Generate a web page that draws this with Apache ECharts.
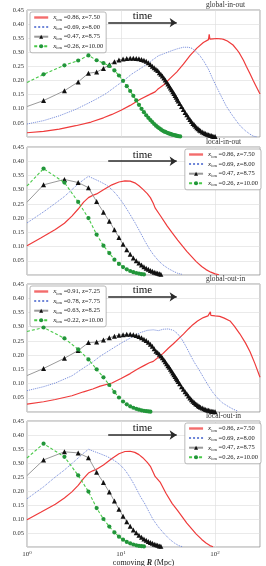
<!DOCTYPE html>
<html><head><meta charset="utf-8">
<script src="https://cdn.jsdelivr.net/npm/echarts@6/dist/echarts.min.js"></script>
<style>html,body{margin:0;padding:0;background:#fff}#c{width:266px;height:566px}</style>
</head><body><div id="c"></div>
<script>
// ---------- data (R in Mpc, R dP/dR) ----------
const panelTitles = ['global-in-out','local-in-out','global-out-in','local-out-in'];
const labelsA = ['=0.86, z=7.50','=0.69, z=8.00','=0.47, z=8.75','=0.26, z=10.00'];
const labelsB = ['=0.91, z=7.25','=0.78, z=7.75','=0.63, z=8.25','=0.22, z=10.00'];
const xTickExponents = [0,1,2];
const yTicks = [0.05,0.10,0.15,0.20,0.25,0.30,0.35,0.40,0.45];

const p1Red = [[1,0.015],[1.5,0.020],[2.2,0.028],[3.3,0.040],[4.8,0.053],[6.5,0.068],[8,0.080],[10,0.095],[12.5,0.112],[16,0.134],[20.5,0.152],[23,0.160],[23.6,0.158],[24.5,0.169],[28.5,0.185],[33,0.207],[39,0.230],[46,0.258],[54,0.288],[64,0.315],[75,0.335],[85,0.345],[86.5,0.364],[88,0.347],[95,0.348],[104,0.349],[115,0.348],[123,0.346],[135,0.340],[155,0.326],[170,0.310],[182,0.296],[200,0.272],[215,0.250],[235,0.224],[254,0.200],[275,0.177],[300,0.152]];
const p1Blue = [[1,0.046],[1.5,0.058],[2.2,0.075],[3.3,0.098],[4.5,0.120],[5.5,0.135],[7,0.155],[9,0.182],[10.5,0.198],[13,0.223],[17,0.248],[21,0.270],[25,0.288],[29,0.296],[34,0.305],[40,0.313],[46,0.318],[52,0.318],[57,0.314],[63,0.302],[69,0.288],[76,0.268],[85,0.240],[96,0.200],[110,0.160],[123,0.128],[131,0.110],[150,0.080],[170,0.055],[184,0.040],[210,0.022],[235,0.010],[255,0.003],[280,0.000]];
const p1Black = [[1,0.108],[1.5,0.129],[2.5,0.164],[3.5,0.195],[4.5,0.226],[5.5,0.230],[6.5,0.243],[7.5,0.256],[8.5,0.267],[9.5,0.273],[10.5,0.276],[11.5,0.278],[12.5,0.279],[13.5,0.279],[14.5,0.278],[15.5,0.277],[16.5,0.275],[17.5,0.272],[18.5,0.268],[19.5,0.263],[20.5,0.257],[21.5,0.251],[22.5,0.245],[23.5,0.240],[24.5,0.236],[25.5,0.228],[26.5,0.222],[27.5,0.216],[28.5,0.209],[29.5,0.202],[30.5,0.195],[31.5,0.188],[32.5,0.181],[33.5,0.174],[34.5,0.167],[35.5,0.160],[36.5,0.154],[37.5,0.147],[38.5,0.141],[39.5,0.134],[40.5,0.128],[42,0.119],[44,0.108],[46,0.097],[48,0.087],[50,0.079],[52,0.070],[54,0.062],[56,0.055],[58,0.048],[60,0.043],[62,0.038],[64,0.033],[66,0.029],[68,0.025],[70,0.022],[73,0.018],[76,0.015],[79,0.012],[82,0.010],[85,0.008],[88,0.006],[91,0.005],[94,0.003],[97,0.002],[100,0.002]];
const p1Green = [[1,0.193],[1.5,0.222],[2.5,0.254],[3.5,0.271],[4.5,0.289],[5.5,0.272],[6.5,0.262],[7.5,0.252],[8.5,0.236],[9.5,0.218],[10.5,0.199],[11.5,0.180],[12.5,0.163],[13.5,0.146],[14.5,0.130],[15.5,0.114],[16.5,0.100],[17.5,0.088],[18.5,0.077],[19.5,0.068],[20.5,0.060],[21.5,0.053],[22.5,0.046],[23.5,0.040],[24.5,0.035],[25.5,0.031],[26.5,0.027],[27.5,0.023],[28.5,0.020],[29.5,0.018],[30.5,0.016],[31.5,0.014],[32.5,0.012],[33.5,0.011],[34.5,0.009],[35.5,0.008],[36.5,0.007],[37.5,0.006],[38.5,0.005],[39.5,0.004],[40.5,0.003],[42.5,0.002]];

const p2Red = [[1,0.103],[1.4,0.130],[2,0.160],[2.5,0.182],[3,0.207],[3.5,0.232],[4,0.256],[4.5,0.272],[5,0.280],[5.5,0.285],[6.5,0.300],[8,0.317],[9.5,0.327],[11,0.331],[12.5,0.330],[14,0.324],[15.5,0.314],[17,0.302],[19,0.286],[20.5,0.272],[22,0.252],[23,0.236],[23.5,0.240],[26,0.210],[31,0.172],[35,0.148],[40,0.123],[50,0.083],[63,0.047],[72,0.030],[80,0.019],[90,0.010],[100,0.004],[110,0.001]];
const p2Blue = [[1,0.183],[1.5,0.222],[2,0.252],[2.5,0.276],[3,0.300],[3.5,0.320],[4,0.335],[4.5,0.347],[5,0.340],[6,0.328],[7,0.316],[8,0.300],[9,0.282],[10,0.262],[11,0.242],[12,0.222],[13,0.203],[14,0.185],[16,0.150],[18,0.118],[20,0.092],[22,0.072],[25,0.050],[28,0.035],[32,0.022],[36,0.013],[40,0.006],[45,0.002]];
const p2Black = [[1,0.256],[1.5,0.317],[2.5,0.336],[3.5,0.325],[4.5,0.307],[5.5,0.258],[6.5,0.221],[7.5,0.189],[8.5,0.159],[9.5,0.132],[10.5,0.108],[11.5,0.089],[12.5,0.073],[13.5,0.060],[14.5,0.050],[15.5,0.042],[16.5,0.035],[17.5,0.029],[18.5,0.024],[19.5,0.020],[20.5,0.016],[21.5,0.013],[22.5,0.010],[23.5,0.008],[24.5,0.006],[25.5,0.004],[26.5,0.003]];
const p2Green = [[1,0.313],[1.5,0.374],[2.5,0.325],[3.5,0.257],[4.5,0.200],[5.5,0.142],[6.5,0.103],[7.5,0.077],[8.5,0.054],[9.5,0.039],[10.5,0.028],[11.5,0.020],[12.5,0.014],[13.5,0.010],[14.5,0.007],[15.5,0.005],[16.5,0.003],[17.5,0.002]];

const p3Red = [[1,0.028],[1.5,0.036],[2,0.044],[3,0.057],[4,0.071],[5,0.081],[6,0.091],[8,0.102],[10,0.118],[12.5,0.135],[15,0.151],[17.5,0.163],[20,0.173],[22,0.178],[23,0.176],[24,0.188],[28,0.206],[32,0.225],[36,0.240],[41,0.258],[46,0.274],[52,0.292],[58,0.307],[65,0.320],[75,0.332],[84,0.338],[88,0.340],[89,0.352],[90,0.340],[100,0.338],[112,0.336],[125,0.330],[144,0.320],[160,0.302],[183,0.275],[210,0.243],[235,0.212],[265,0.170],[300,0.122]];
const p3Blue = [[1,0.075],[1.5,0.089],[2,0.102],[3,0.127],[4,0.155],[5,0.176],[6,0.196],[8,0.222],[10,0.242],[13,0.263],[16,0.279],[19,0.287],[22,0.289],[25,0.286],[28,0.291],[32,0.292],[36,0.287],[40,0.275],[45,0.252],[50,0.225],[55,0.198],[60,0.175],[67,0.150],[75,0.122],[85,0.092],[95,0.068],[108,0.046],[120,0.032],[137,0.020],[155,0.010],[175,0.003]];
const p3Black = [[1,0.128],[1.5,0.153],[2.5,0.189],[3.5,0.216],[4.5,0.244],[5.5,0.246],[6.5,0.253],[7.5,0.261],[8.5,0.266],[9.5,0.270],[10.5,0.272],[11.5,0.273],[12.5,0.273],[13.5,0.272],[14.5,0.269],[15.5,0.265],[16.5,0.261],[17.5,0.256],[18.5,0.251],[19.5,0.245],[20.5,0.238],[21.5,0.231],[22.5,0.222],[23.5,0.214],[24.5,0.209],[25.5,0.203],[26.5,0.197],[27.5,0.191],[28.5,0.184],[29.5,0.177],[30.5,0.170],[31.5,0.163],[32.5,0.157],[33.5,0.150],[34.5,0.144],[35.5,0.137],[36.5,0.131],[37.5,0.125],[38.5,0.119],[39.5,0.113],[40.5,0.107],[42,0.099],[44,0.089],[46,0.080],[48,0.071],[50,0.064],[52,0.056],[54,0.049],[56,0.043],[58,0.038],[60,0.033],[62,0.029],[64,0.026],[66,0.022],[68,0.019],[70,0.017],[73,0.014],[76,0.011],[79,0.009],[82,0.007],[85,0.006],[88,0.004],[91,0.003],[94,0.002],[97,0.002],[100,0.001]];
const p3Green = [[1,0.283],[1.5,0.297],[2.5,0.259],[3.5,0.220],[4.5,0.185],[5.5,0.150],[6.5,0.122],[7.5,0.095],[8.5,0.070],[9.5,0.051],[10.5,0.037],[11.5,0.027],[12.5,0.020],[13.5,0.015],[14.5,0.011],[15.5,0.008],[16.5,0.006],[17.5,0.004],[18.5,0.003],[19.5,0.002],[20.5,0.001]];

const p4Red = [[1,0.097],[1.4,0.124],[2,0.153],[2.5,0.175],[3,0.197],[3.5,0.220],[4,0.245],[4.5,0.264],[5,0.272],[5.5,0.278],[6.5,0.293],[8,0.316],[9.5,0.333],[11,0.341],[12.5,0.342],[14,0.338],[15.5,0.330],[17,0.319],[19,0.302],[20.5,0.288],[22,0.266],[23,0.252],[23.5,0.257],[26,0.232],[30,0.192],[35,0.155],[40,0.130],[50,0.085],[63,0.046],[72,0.027],[80,0.014],[88,0.005],[95,0.001]];
const p4Blue = [[1,0.172],[1.5,0.215],[2,0.250],[2.5,0.275],[3,0.298],[3.5,0.318],[4,0.335],[4.5,0.349],[5,0.343],[6,0.333],[7,0.324],[8,0.314],[9,0.303],[10,0.290],[11,0.275],[12,0.257],[13,0.238],[14,0.219],[16,0.181],[18,0.153],[20,0.123],[22,0.097],[25,0.071],[29,0.046],[33,0.027],[37,0.014],[41,0.005],[45,0.001]];
const p4Black = [[1,0.255],[1.5,0.311],[2.5,0.340],[3.5,0.336],[4.5,0.319],[5.5,0.267],[6.5,0.230],[7.5,0.196],[8.5,0.164],[9.5,0.135],[10.5,0.110],[11.5,0.090],[12.5,0.074],[13.5,0.061],[14.5,0.051],[15.5,0.042],[16.5,0.035],[17.5,0.029],[18.5,0.024],[19.5,0.020],[20.5,0.016],[21.5,0.013],[22.5,0.010],[23.5,0.008],[24.5,0.006],[25.5,0.004],[26.5,0.003]];
const p4Green = [[1,0.318],[1.5,0.369],[2.5,0.322],[3.5,0.256],[4.5,0.198],[5.5,0.139],[6.5,0.100],[7.5,0.073],[8.5,0.052],[9.5,0.037],[10.5,0.026],[11.5,0.018],[12.5,0.013],[13.5,0.009],[14.5,0.006],[15.5,0.004],[16.5,0.003],[17.5,0.002]];

// annotation: "time" arrow (data coords)
const timeArrowR = [7.3, 39];
const timeArrowY = [0.405, 0.400, 0.405, 0.400];

// ---------- layout / style ----------
const FONT = '"Liberation Serif","DejaVu Serif",serif';
const gridTops = [10, 147, 284, 421];
const gridHeights = [127, 128, 128, 126];
const RED = '#ef3b3b', BLUE = '#6f86d8', BLACKLINE = '#9a9a9a', BLACKMK = '#111', GLINE = '#49c949', GMK = '#22963a';

const panelData = [
  {red:p1Red, blue:p1Blue, black:p1Black, green:p1Green, labels:labelsA, legendLeft:true},
  {red:p2Red, blue:p2Blue, black:p2Black, green:p2Green, labels:labelsA, legendLeft:false},
  {red:p3Red, blue:p3Blue, black:p3Black, green:p3Green, labels:labelsB, legendLeft:true},
  {red:p4Red, blue:p4Blue, black:p4Black, green:p4Green, labels:labelsA, legendLeft:false}
];

const grid = [], xAxis = [], yAxis = [], series = [], legend = [], title = [];
const labelMap = {};
panelData.forEach((p, i) => {
  grid.push({left:27, right:6, top:gridTops[i], height:gridHeights[i], containLabel:false, outerBoundsMode:'none',
    show:true, borderColor:'#8a8a8a', borderWidth:0.8, backgroundColor:'transparent'});
  const last = i === 3;
  xAxis.push({
    type:'log', logBase:10, min:1, max:300, gridIndex:i,
    axisLine:{show:false}, axisTick:{show:false},
    splitLine:{show:true, lineStyle:{color:'#dcdcdc', width:0.6}},
    axisLabel:{show:last, margin:3, color:'#333', fontFamily:FONT, showMaxLabel:false,
      formatter: v => { const l = Math.log10(v), e = Math.round(l); return (Math.abs(l - e) < 1e-6 && xTickExponents.indexOf(e) >= 0) ? '{b|10}{s|' + e + '}' : ''; },
      rich:{b:{fontSize:7, fontFamily:FONT, color:'#333'}, s:{fontSize:5, fontFamily:FONT, color:'#333', padding:[0,0,4,0]}}},
    name: last ? '{t|comoving }{i|R}{t| (Mpc)}' : '', nameLocation:'middle', nameGap:11,
    nameTextStyle:{rich:{t:{fontSize:8, fontFamily:FONT, color:'#222'}, i:{fontSize:8, fontFamily:FONT, fontStyle:'italic', fontWeight:'bold', color:'#222'}}}
  });
  yAxis.push({
    type:'value', min:0, max:0.45, interval:0.05, gridIndex:i,
    axisLine:{show:false}, axisTick:{show:false},
    splitLine:{show:true, lineStyle:{color:'#dcdcdc', width:0.6}},
    axisLabel:{margin:3, fontSize:6.5, fontFamily:FONT, color:'#333',
      formatter: v => { const t = yTicks.find(k => Math.abs(k - v) < 1e-6); return t ? t.toFixed(2) : ''; }},
    name:'{i|R} {b|d}{i|P}{b|(}{i|R}{b|)/d}{i|R}', nameLocation:'middle', nameGap:15, nameRotate:90,
    nameTextStyle:{rich:{i:{fontSize:7.5, fontFamily:FONT, fontStyle:'italic', fontWeight:'bold', color:'#222'}, b:{fontSize:7.5, fontFamily:FONT, fontWeight:'bold', color:'#222'}}}
  });
  const names = ['P'+i+'a','P'+i+'b','P'+i+'c','P'+i+'d'];
  names.forEach((n, k) => { labelMap[n] = '{i|x}{s|ion}{t| ' + p.labels[k] + '}'; });
  const firstNoSym = arr => arr.map((d, j) => j === 0 ? {value:d, symbol:'none'} : d);
  series.push({name:names[0], type:'line', xAxisIndex:i, yAxisIndex:i, data:p.red, symbol:'none',
    lineStyle:{color:RED, width:1.2}, itemStyle:{color:RED}, z:3,
    markLine:{silent:true, animation:false, symbol:['none','arrow'], symbolSize:7,
      lineStyle:{color:'#2a2a2a', width:1.6, type:'solid'},
      label:{show:true, position:'middle', formatter:'time', fontSize:11, fontFamily:FONT, color:'#111', distance:1},
      data:[[{coord:[timeArrowR[0], timeArrowY[i]]},{coord:[timeArrowR[1], timeArrowY[i]]}]]}});
  series.push({name:names[1], type:'line', xAxisIndex:i, yAxisIndex:i, data:p.blue, symbol:'none',
    lineStyle:{color:BLUE, width:1, type:'dotted'}, itemStyle:{color:BLUE}, z:3});
  series.push({name:names[2], type:'line', xAxisIndex:i, yAxisIndex:i, data:firstNoSym(p.black), symbol:'triangle', symbolSize:5,
    lineStyle:{color:BLACKLINE, width:1}, itemStyle:{color:BLACKMK}, z:4});
  series.push({name:names[3], type:'line', xAxisIndex:i, yAxisIndex:i, data:firstNoSym(p.green), symbol:'circle', symbolSize:4.2,
    lineStyle:{color:GLINE, width:1.1, type:[3,2]}, itemStyle:{color:GMK}, z:5});
  const lg = {
    data:[
      {name:names[0], itemStyle:{opacity:0}, lineStyle:{width:2.4, opacity:0.75}},
      {name:names[1], itemStyle:{opacity:0}},
      {name:names[2]},
      {name:names[3]}
    ],
    orient:'vertical', top:gridTops[i] + 2, itemWidth:14, itemHeight:5, itemGap:1.6,
    padding:[2,3,2,3], backgroundColor:'#fff', borderColor:'#9a9a9a', borderWidth:0.7, borderRadius:2,
    selectedMode:false, formatter: n => labelMap[n],
    textStyle:{fontSize:6.5, fontFamily:FONT, color:'#222', rich:{
      i:{fontSize:7, fontFamily:FONT, fontStyle:'italic', color:'#222'},
      s:{fontSize:4.5, fontFamily:FONT, color:'#222', padding:[4,0,0,0]},
      t:{fontSize:6.5, fontFamily:FONT, color:'#222'}}}};
  if (p.legendLeft) lg.left = 30; else lg.right = 5;
  legend.push(lg);
  title.push({text:panelTitles[i], left:206, top:gridTops[i] - 9, padding:0,
    textStyle:{fontSize:7.5, fontWeight:'normal', fontFamily:FONT, color:'#333'}});
});

const chart = echarts.init(document.getElementById('c'), null, {renderer:'canvas'});
chart.setOption({animation:false, backgroundColor:'#fff', title, grid, xAxis, yAxis, legend, series});
</script></body></html>
